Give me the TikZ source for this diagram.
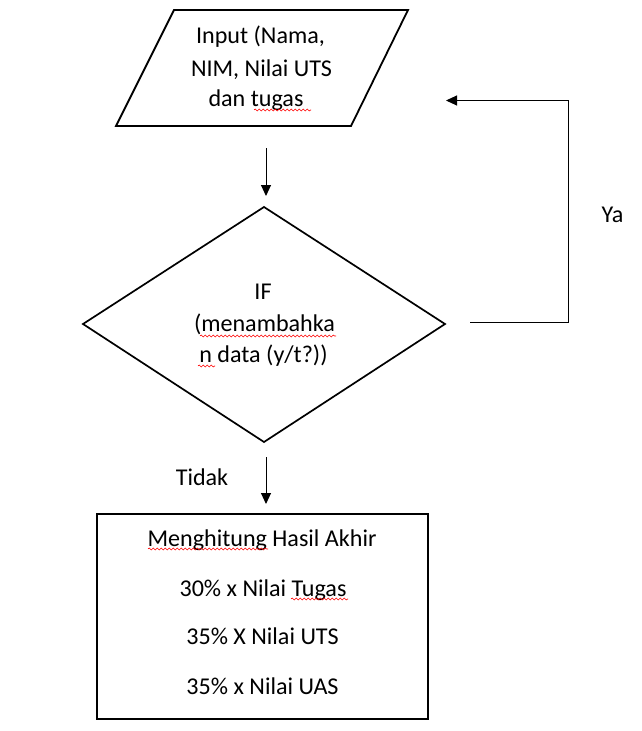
\documentclass[tikz,border=0pt]{standalone}
\usepackage{fontspec}
\setmainfont{Carlito}
\usetikzlibrary{arrows.meta,decorations.pathmorphing}
\begin{document}
\begin{tikzpicture}[x=1pt,y=-1pt,
  shapeline/.style={draw=black,line width=1.8pt,line join=miter},
  conn/.style={draw=black,line width=1pt,-{Triangle[length=11pt,width=10pt]}},
  txt/.style={anchor=base,inner sep=0pt,font=\fontsize{24.1}{29}\selectfont},
  squig/.style={draw=red,line width=0.6pt,decorate,decoration={snake,segment length=4pt,amplitude=1pt}}]
\useasboundingbox[fill=white] (0,0) rectangle (641,731);
% input parallelogram
\coordinate (p1) at (174,10);
\coordinate (p2) at (408,10);
\coordinate (p3) at (351,126);
\coordinate (p4) at (116,126);
\draw[shapeline] (p1) -- (p2) -- (p3) -- (p4) -- cycle;
\node[txt] (in1) at (260.5,43) {Input (Nama,};
\node[txt] (in2) at (261.5,76) {NIM, Nilai UTS};
\node[txt] (in3) at (256,106) {dan tugas};
% decision diamond
\coordinate (dt) at (264,207);
\coordinate (dr) at (445,324);
\coordinate (db) at (264,442);
\coordinate (dl) at (83,324);
\draw[shapeline,line width=1.7pt] (dt) -- (dr) -- (db) -- (dl) -- cycle;
\node[txt] (if1) at (263,299) {IF};
\node[txt] (if2) at (264.5,331) {(menambahka};
\node[txt] (if3) at (263.5,362) {n data (y/t?))};
% process rectangle
\coordinate (r1) at (97,514);
\coordinate (r2) at (428,719);
\draw[shapeline] (r1) rectangle (r2);
\node[txt] (h1) at (262,546) {Menghitung Hasil Akhir};
\node[txt] (h2) at (263,596) {30\% x Nilai Tugas};
\node[txt] (h3) at (262.5,644) {35\% X Nilai UTS};
\node[txt] (h4) at (262.5,694) {35\% x Nilai UAS};
% labels
\node[txt] (tidak) at (202,485) {Tidak};
\node[txt] (ya) at (612.5,222) {Ya};
% connectors
\coordinate (a1s) at (266,148);
\coordinate (a1e) at (266,196);
\draw[conn] (a1s) -- (a1e);
\coordinate (a2s) at (266,457);
\coordinate (a2e) at (266,504);
\draw[conn] (a2s) -- (a2e);
\coordinate (ls) at (470,322);
\coordinate (lc1) at (568,322);
\coordinate (lc2) at (568,100.5);
\coordinate (le) at (446,100.5);
\draw[conn] (ls) -- (lc1) -- (lc2) -- (le);
% spell-check squiggles
\coordinate (s1a) at (254,110); \coordinate (s1b) at (311,110);
\draw[squig] (s1a) -- (s1b);
\coordinate (s2a) at (200,336); \coordinate (s2b) at (336,336);
\draw[squig] (s2a) -- (s2b);
\coordinate (s3a) at (198,366); \coordinate (s3b) at (215,366);
\draw[squig] (s3a) -- (s3b);
\coordinate (s4a) at (148,549); \coordinate (s4b) at (268,549);
\draw[squig] (s4a) -- (s4b);
\coordinate (s5a) at (291,599); \coordinate (s5b) at (348,599);
\draw[squig] (s5a) -- (s5b);
\end{tikzpicture}
\end{document}
